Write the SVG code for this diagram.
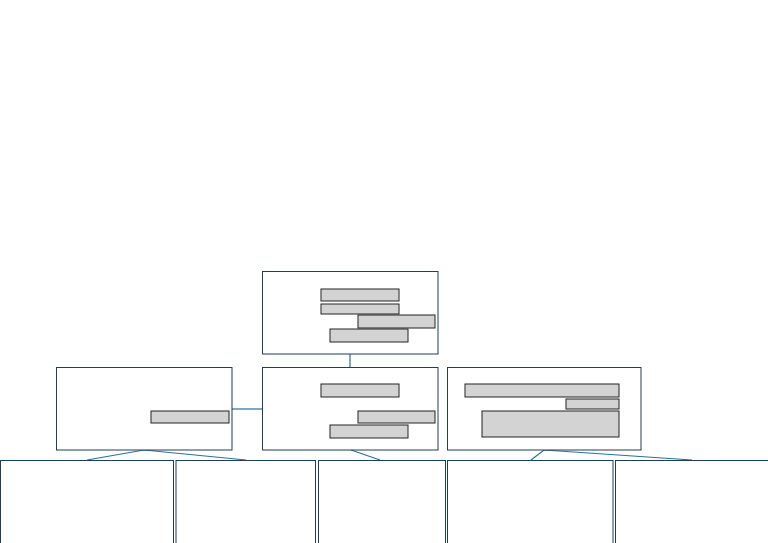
<svg xmlns="http://www.w3.org/2000/svg" width="768" height="543" viewBox="0 0 768 543">
<style>
.box{fill:#fff;stroke:#1e3d57;stroke-width:1}
.bar{fill:#d3d3d3;stroke:#222;stroke-width:1}
.con{fill:none;stroke:#2a6f95;stroke-width:1.2}
</style>
<rect x="0" y="0" width="768" height="543" fill="#fff"/>
<g id="connectors">
<line class="con" x1="350" y1="354" x2="350" y2="367"/>
<line class="con" x1="232" y1="409" x2="262" y2="409"/>
<polyline class="con" points="87,460 144,450 246,460"/>
<line class="con" x1="351" y1="450" x2="380" y2="460"/>
<polyline class="con" points="531,460 544,450 692,460"/>
</g>
<g id="node-top">
<rect class="box" x="262.5" y="271.5" width="175.5" height="82.5"/>
<rect class="bar" x="321" y="289" width="78" height="12"/>
<rect class="bar" x="321" y="304" width="78" height="10"/>
<rect class="bar" x="358" y="315" width="77" height="13"/>
<rect class="bar" x="330" y="329" width="78" height="13"/>
</g>
<g id="node-left">
<rect class="box" x="56.5" y="367.5" width="175.5" height="82.5"/>
<rect class="bar" x="151" y="411" width="78" height="12"/>
</g>
<g id="node-middle">
<rect class="box" x="262.5" y="367.5" width="175.5" height="82.5"/>
<rect class="bar" x="321" y="384" width="78" height="13"/>
<rect class="bar" x="358" y="411" width="77" height="12"/>
<rect class="bar" x="330" y="425" width="78" height="13"/>
</g>
<g id="node-right">
<rect class="box" x="447.5" y="367.5" width="193.5" height="82.5"/>
<rect class="bar" x="465" y="384" width="154" height="13"/>
<rect class="bar" x="566" y="399" width="53" height="10"/>
<rect class="bar" x="482" y="411" width="137" height="26"/>
</g>
<g id="node-b1"><rect class="box" x="0.5" y="460.5" width="173" height="100"/></g>
<g id="node-b2"><rect class="box" x="176" y="460.5" width="139.5" height="100"/></g>
<g id="node-b3"><rect class="box" x="318.5" y="460.5" width="127" height="100"/></g>
<g id="node-b4"><rect class="box" x="447.5" y="460.5" width="165.5" height="100"/></g>
<g id="node-b5"><rect class="box" x="615.5" y="460.5" width="170" height="100"/></g>
</svg>
